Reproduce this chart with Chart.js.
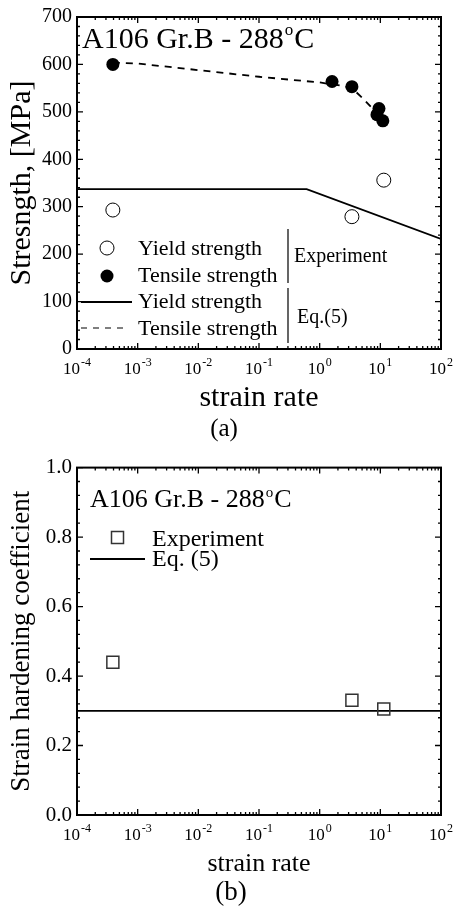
<!DOCTYPE html>
<html>
<head>
<meta charset="utf-8">
<script src="https://cdn.jsdelivr.net/npm/chart.js@4.4.1/dist/chart.umd.min.js"></script>
<style>
  html, body { margin: 0; padding: 0; background: #fff; }
  .panel { position: relative; width: 454px; }
</style>
</head>
<body>
<div class="panel" style="height:450px"><canvas id="chartA"></canvas></div>
<div class="panel" style="height:464px"><canvas id="chartB"></canvas></div>
<script>
"use strict";

// x axis (both panels): decade ticks, label = base + exponent
const decades = [1e-4, 1e-3, 1e-2, 1e-1, 1, 10, 100];
const decadeExp = ["-4", "-3", "-2", "-1", "0", "1", "2"];

// (a) experiment
const yieldRate = [3.9e-4, 3.4, 11.4];
const yieldStress = [293, 279, 356];
const tensileRate = [3.9e-4, 1.6, 3.4, 9.5, 8.8, 11.0];
const tensileStress = [600, 564, 553, 507, 494, 481];

// (a) Eq.(5)
const eqYieldRate = [1e-4, 0.61, 100];
const eqYieldStress = [337, 337, 232];
const eqTensileRate = [3.9e-4, 1e-3, 1e-2, 1e-1, 1, 2.3, 3.4, 5.1, 7.3, 8.8];
const eqTensileStress = [604, 602, 588, 574, 562, 555, 550, 529, 508, 494];
const stressTicks = [0, 100, 200, 300, 400, 500, 600, 700];

// (b) strain hardening coefficient
const nRate = [3.9e-4, 3.4, 11.4];
const nValue = [0.44, 0.33, 0.305];
const eqNRate = [1e-4, 100];
const eqNValue = [0.30, 0.30];
const nTicks = [0, 0.2, 0.4, 0.6, 0.8, 1.0];

const serif = "'Liberation Serif', 'Times New Roman', 'DejaVu Serif', serif";

function pts(xs, ys) {
  return xs.map((x, i) => ({ x: x, y: ys[i] }));
}

// frame, inward ticks on all four sides, and 10^n labels under the x axis
function framePlugin(yMin, yMax, yMajor, yMinor) {
  return {
    id: "frame",
    afterDatasetsDraw(chart) {
      const ctx = chart.ctx;
      const a = chart.chartArea;
      const x = chart.scales.x;
      const y = chart.scales.y;
      ctx.save();
      ctx.strokeStyle = "#000";
      ctx.lineWidth = 1.3;
      ctx.beginPath();
      decades.forEach((d, i) => {
        const px = x.getPixelForValue(d);
        ctx.moveTo(px, a.bottom); ctx.lineTo(px, a.bottom - 6);
        ctx.moveTo(px, a.top); ctx.lineTo(px, a.top + 6);
        if (i < decades.length - 1) {
          for (let k = 2; k < 10; k++) {
            const pm = x.getPixelForValue(d * k);
            ctx.moveTo(pm, a.bottom); ctx.lineTo(pm, a.bottom - 3);
            ctx.moveTo(pm, a.top); ctx.lineTo(pm, a.top + 3);
          }
        }
      });
      const n = Math.round((yMax - yMin) / yMinor);
      for (let i = 0; i <= n; i++) {
        const v = yMin + i * yMinor;
        const py = y.getPixelForValue(v);
        const major = Math.abs(v / yMajor - Math.round(v / yMajor)) < 1e-6;
        const len = major ? 6 : 3;
        ctx.moveTo(a.left, py); ctx.lineTo(a.left + len, py);
        ctx.moveTo(a.right, py); ctx.lineTo(a.right - len, py);
      }
      ctx.stroke();
      ctx.lineWidth = 2;
      ctx.strokeRect(a.left, a.top, a.right - a.left, a.bottom - a.top);

      // x tick labels with raised exponent
      ctx.fillStyle = "#000";
      ctx.textBaseline = "alphabetic";
      ctx.textAlign = "left";
      const base = a.bottom + 25;
      decades.forEach((d, i) => {
        const px = x.getPixelForValue(d);
        ctx.font = "17px " + serif;
        const w1 = ctx.measureText("10").width;
        ctx.font = "12px " + serif;
        const w2 = ctx.measureText(decadeExp[i]).width;
        const left = px - (w1 + w2 + 1) / 2;
        ctx.font = "17px " + serif;
        ctx.fillText("10", left, base);
        ctx.font = "12px " + serif;
        ctx.fillText(decadeExp[i], left + w1 + 1, base - 8);
      });
      ctx.restore();
    }
  };
}

function drawHeading(ctx, x, base, size, supSize, rise) {
  ctx.font = size + "px " + serif;
  ctx.textBaseline = "alphabetic";
  ctx.textAlign = "left";
  ctx.fillStyle = "#000";
  const main = "A106 Gr.B - 288";
  ctx.fillText(main, x, base);
  let cx = x + ctx.measureText(main).width + 1;
  ctx.font = supSize + "px " + serif;
  ctx.fillText("o", cx, base - rise);
  cx += ctx.measureText("o").width + 1;
  ctx.font = size + "px " + serif;
  ctx.fillText("C", cx, base);
}

function text(ctx, s, x, y, size, align, baseline) {
  ctx.font = size + "px " + serif;
  ctx.textAlign = align || "left";
  ctx.textBaseline = baseline || "alphabetic";
  ctx.fillStyle = "#000";
  ctx.fillText(s, x, y);
}

const notesA = {
  id: "notesA",
  afterDraw(chart) {
    const ctx = chart.ctx;
    ctx.save();
    drawHeading(ctx, 82, 48, 30, 17, 13);
    // legend markers
    ctx.strokeStyle = "#000";
    ctx.fillStyle = "#000";
    ctx.lineWidth = 1;
    ctx.beginPath(); ctx.arc(107, 248, 7, 0, Math.PI * 2); ctx.stroke();
    ctx.beginPath(); ctx.arc(107, 276, 6.5, 0, Math.PI * 2); ctx.fill();
    ctx.lineWidth = 1.8;
    ctx.beginPath(); ctx.moveTo(81, 302); ctx.lineTo(132, 302); ctx.stroke();
    ctx.lineWidth = 1;
    ctx.setLineDash([6, 6]);
    ctx.beginPath(); ctx.moveTo(81, 328); ctx.lineTo(128, 328); ctx.stroke();
    ctx.setLineDash([]);
    ctx.lineWidth = 1.2;
    ctx.beginPath();
    ctx.moveTo(288, 229); ctx.lineTo(288, 283);
    ctx.moveTo(288, 288); ctx.lineTo(288, 343);
    ctx.stroke();
    text(ctx, "Yield strength", 138, 255, 22);
    text(ctx, "Tensile strength", 138, 282, 22);
    text(ctx, "Yield strength", 138, 308, 22);
    text(ctx, "Tensile strength", 138, 335, 22);
    text(ctx, "Experiment", 294, 262, 20);
    text(ctx, "Eq.(5)", 297, 323, 20);
    text(ctx, "(a)", 224, 429, 25, "center", "middle");
    ctx.restore();
  }
};

const notesB = {
  id: "notesB",
  afterDraw(chart) {
    const ctx = chart.ctx;
    ctx.save();
    drawHeading(ctx, 90, 57, 26, 15, 10);
    ctx.strokeStyle = "#333";
    ctx.lineWidth = 1.5;
    ctx.strokeRect(111.5, 81.5, 12, 12);
    ctx.strokeStyle = "#000";
    ctx.lineWidth = 1.8;
    ctx.beginPath(); ctx.moveTo(90, 109); ctx.lineTo(145, 109); ctx.stroke();
    text(ctx, "Experiment", 152, 96, 24);
    text(ctx, "Eq. (5)", 152, 116, 24);
    text(ctx, "(b)", 231, 443, 27, "center", "middle");
    ctx.restore();
  }
};

function xScale(height, titleSize, titlePad) {
  return {
    type: "logarithmic",
    min: 1e-4,
    max: 100,
    afterBuildTicks: (s) => { s.ticks = decades.map((v) => ({ value: v })); },
    afterFit: (s) => { s.height = height; },
    grid: { display: false, drawTicks: false },
    border: { display: false },
    ticks: { display: false },
    title: {
      display: true,
      text: "strain rate",
      color: "#000",
      font: { family: serif, size: titleSize },
      padding: { top: 0, bottom: titlePad }
    }
  };
}

function yScale(min, max, tickList, fmt, title, titleSize, titlePad, tickSize) {
  return {
    min: min,
    max: max,
    afterBuildTicks: (s) => { s.ticks = tickList.map((v) => ({ value: v })); },
    afterFit: (s) => { s.width = 77; },
    grid: { display: false, drawTicks: false },
    border: { display: false },
    ticks: {
      padding: 5,
      color: "#000",
      font: { family: serif, size: tickSize },
      callback: fmt
    },
    title: {
      display: true,
      text: title,
      color: "#000",
      font: { family: serif, size: titleSize },
      padding: { top: titlePad, bottom: 0 }
    }
  };
}

const common = {
  responsive: true,
  maintainAspectRatio: false,
  animation: false,
  plugins: { legend: { display: false }, tooltip: { enabled: false } }
};

new Chart(document.getElementById("chartA"), {
  type: "scatter",
  data: {
    datasets: [
      {
        label: "Tensile strength (experiment)",
        data: pts(tensileRate, tensileStress),
        pointRadius: 6.5,
        pointBackgroundColor: "#000",
        pointBorderColor: "#000",
        pointBorderWidth: 0
      },
      {
        label: "Yield strength (experiment)",
        data: pts(yieldRate, yieldStress),
        pointRadius: 7,
        pointBackgroundColor: "rgba(0,0,0,0)",
        pointBorderColor: "#000",
        pointBorderWidth: 1
      },
      {
        label: "Tensile strength Eq.(5)",
        data: pts(eqTensileRate, eqTensileStress),
        showLine: true,
        borderColor: "#000",
        borderWidth: 1.8,
        borderDash: [7, 6],
        pointRadius: 0
      },
      {
        label: "Yield strength Eq.(5)",
        data: pts(eqYieldRate, eqYieldStress),
        showLine: true,
        borderColor: "#000",
        borderWidth: 1.8,
        pointRadius: 0
      }
    ]
  },
  options: Object.assign({}, common, {
    layout: { padding: { top: 13, right: 13, left: 0, bottom: 0 } },
    scales: {
      x: xScale(101, 30, 34),
      y: yScale(0, 700, stressTicks, (v) => String(v), "Stresngth, [MPa]", 30, 4, 20)
    }
  }),
  plugins: [framePlugin(0, 700, 100, 20), notesA]
});

new Chart(document.getElementById("chartB"), {
  type: "scatter",
  data: {
    datasets: [
      {
        label: "Experiment",
        data: pts(nRate, nValue),
        pointStyle: "rect",
        pointRadius: 8.5,
        pointBackgroundColor: "rgba(0,0,0,0)",
        pointBorderColor: "#333",
        pointBorderWidth: 1.5
      },
      {
        label: "Eq. (5)",
        data: pts(eqNRate, eqNValue),
        showLine: true,
        borderColor: "#000",
        borderWidth: 1.8,
        pointRadius: 0
      }
    ]
  },
  options: Object.assign({}, common, {
    layout: { padding: { top: 17, right: 13, left: 0, bottom: 0 } },
    scales: {
      x: xScale(99, 26, 34),
      y: yScale(0, 1, nTicks, (v) => v.toFixed(1), "Strain hardening coefficient", 27, 6, 21)
    }
  }),
  plugins: [framePlugin(0, 1, 0.2, 0.04), notesB]
});
</script>
</body>
</html>
